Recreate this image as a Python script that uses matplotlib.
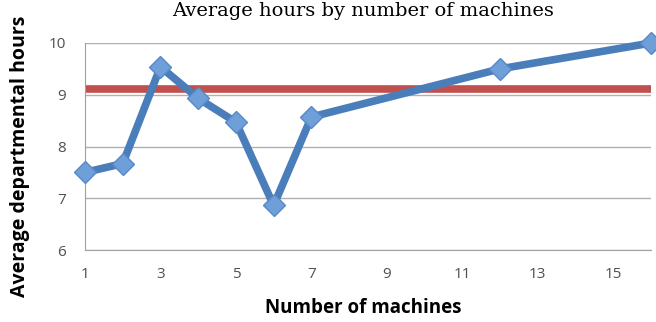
import matplotlib
matplotlib.use("Agg")
import matplotlib.pyplot as plt

machines = [1, 2, 3, 4, 5, 6, 7, 12, 16]
avg_hours = [7.5, 7.67, 9.54, 8.93, 8.47, 6.86, 8.57, 9.5, 10.0]
overall_avg = 9.12
x_ticks = [1, 3, 5, 7, 9, 11, 13, 15]
y_ticks = [6, 7, 8, 9, 10]

W, H = 656, 322
fig = plt.figure(figsize=(W / 100, H / 100), dpi=100)
ax = fig.add_axes([85 / W, 1 - 250 / H, (651 - 85) / W, (250 - 43) / H])

ax.plot([1, 16], [overall_avg, overall_avg], color="#c0504d", lw=5.5, solid_capstyle="butt", zorder=2)
ax.plot(machines, avg_hours, color="#4a7ebb", lw=5.5, marker="D", markersize=11,
        markerfacecolor="#6f9fd8", markeredgecolor="#5a8ac6", markeredgewidth=1, zorder=3,
        clip_on=False)

ax.set_xlim(1, 16)
ax.set_ylim(6, 10)
ax.set_xticks(x_ticks)
ax.set_yticks(y_ticks)
ax.yaxis.grid(True, color="#b0b0b0", lw=1)
ax.set_axisbelow(True)
for s in ["top", "right"]:
    ax.spines[s].set_visible(False)
for s in ["left", "bottom"]:
    ax.spines[s].set_color("#a0a0a0")
ax.tick_params(length=0, labelsize=11, colors="#505050")
ax.tick_params(axis="x", pad=12)
ax.tick_params(axis="y", pad=14)
for lab in ax.get_xticklabels() + ax.get_yticklabels():
    lab.set_family("Open Sans")

fig.text(363 / W, 1 - 308 / H, "Number of machines", ha="center", va="center",
         fontsize=13.5, fontweight="bold", family="Open Sans")
fig.text(20 / W, 1 - 156 / H, "Average departmental hours", ha="center", va="center",
         rotation=90, fontsize=14, fontweight="bold", family="Open Sans")

fig.text(363 / W, 1 - 2 / H, "Average hours by number of machines", ha="center", va="top",
         fontsize=14, family="DejaVu Serif")

fig.savefig("out.png", dpi=100)
